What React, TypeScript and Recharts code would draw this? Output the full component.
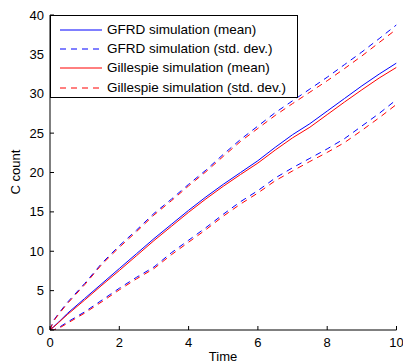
import React from 'react';
import { LineChart, Line, XAxis, YAxis, Legend, Label } from 'recharts';

const time = [0, 0.1, 0.25, 0.5, 1, 1.5, 2, 2.5, 3, 3.5, 4, 4.5, 5, 5.5, 6, 6.5, 7, 7.5, 8, 8.5, 9, 9.5, 10];
const gfrdMean = [0, 0.4, 1.0, 2.1, 4.0, 5.9, 7.8, 9.7, 11.6, 13.4, 15.2, 16.9, 18.5, 20.0, 21.5, 23.2, 24.8, 26.2, 27.8, 29.4, 31.0, 32.5, 33.9];
const gfrdUpper = [0, 1.2, 2.1, 3.5, 5.9, 8.5, 10.7, 12.7, 14.8, 16.6, 18.5, 20.3, 22.3, 24.2, 25.9, 27.6, 29.1, 30.6, 32.1, 33.7, 35.3, 37.0, 38.75];
const gfrdLower = [0, 0, 0.3, 1.0, 2.3, 3.8, 5.3, 6.7, 8.0, 9.8, 11.4, 13.0, 14.7, 16.3, 17.7, 19.3, 20.6, 21.8, 23.0, 24.3, 25.9, 27.5, 29.25];
const gillMean = [0, 0.35, 0.95, 1.95, 3.8, 5.7, 7.55, 9.45, 11.35, 13.15, 14.95, 16.65, 18.25, 19.75, 21.2, 22.85, 24.4, 25.75, 27.35, 28.95, 30.5, 32.0, 33.35];
const gillUpper = [0, 1.1, 2.0, 3.35, 5.75, 8.35, 10.5, 12.5, 14.6, 16.4, 18.3, 20.1, 22.05, 23.95, 25.6, 27.25, 28.75, 30.2, 31.65, 33.2, 34.8, 36.5, 38.2];
const gillLower = [0, 0, 0.2, 0.85, 2.15, 3.6, 5.1, 6.5, 7.8, 9.55, 11.15, 12.75, 14.45, 16.0, 17.4, 18.95, 20.2, 21.4, 22.55, 23.8, 25.35, 26.95, 28.65];

const xTicks = [0, 2, 4, 6, 8, 10];
const yTicks = [0, 5, 10, 15, 20, 25, 30, 35, 40];

const legendItems = [
  { label: 'GFRD simulation (mean)', color: '#0000ff', dashed: false },
  { label: 'GFRD simulation (std. dev.)', color: '#0000ff', dashed: true },
  { label: 'Gillespie simulation (mean)', color: '#ff0000', dashed: false },
  { label: 'Gillespie simulation (std. dev.)', color: '#ff0000', dashed: true },
];

const data = time.map((t, i) => ({
  t,
  gm: gfrdMean[i],
  gu: gfrdUpper[i],
  gl: gfrdLower[i],
  sm: gillMean[i],
  su: gillUpper[i],
  sl: gillLower[i],
}));

const FONT = '"Liberation Sans", Arial, sans-serif';
const DASH = '6 5';

const BottomTick = (props: any) => {
  const { x, y, payload } = props;
  return (
    <g>
      <line x1={x} y1={y} x2={x} y2={y - 4} stroke="#000" strokeWidth={1} />
      <text x={x} y={y + 17} textAnchor="middle" fontSize={13} fontFamily={FONT} fill="#000">
        {payload.value}
      </text>
    </g>
  );
};
const TopTick = (props: any) => {
  const { x, y } = props;
  return <line x1={x} y1={y} x2={x} y2={y + 4} stroke="#000" strokeWidth={1} />;
};
const LeftTick = (props: any) => {
  const { x, y, payload } = props;
  return (
    <g>
      <line x1={x} y1={y} x2={x + 4} y2={y} stroke="#000" strokeWidth={1} />
      <text x={x - 6} y={y + 4.5} textAnchor="end" fontSize={13} fontFamily={FONT} fill="#000">
        {payload.value}
      </text>
    </g>
  );
};
const RightTick = (props: any) => {
  const { x, y } = props;
  return <line x1={x} y1={y} x2={x - 4} y2={y} stroke="#000" strokeWidth={1} />;
};

const LegendBox = () => (
  <div
    style={{
      position: 'relative',
      width: 248,
      height: 83,
      border: '1px solid #000',
      background: '#fff',
      boxSizing: 'border-box',
      fontFamily: FONT,
      fontSize: 13.5,
      color: '#000',
    }}
  >
    {legendItems.map((it, i) => (
      <div
        key={it.label}
        style={{ position: 'absolute', left: 8, top: 14 + 19.2 * i - 9, height: 18, display: 'flex', alignItems: 'center', whiteSpace: 'nowrap' }}
      >
        <svg width={43} height={18} style={{ display: 'block' }}>
          <line x1={1} y1={9} x2={43} y2={9} stroke={it.color} strokeWidth={1} strokeDasharray={it.dashed ? DASH : undefined} />
        </svg>
        <span style={{ marginLeft: 5, lineHeight: '18px' }}>{it.label}</span>
      </div>
    ))}
  </div>
);

export default function App() {
  return (
    <div style={{ position: 'absolute', left: 0, top: 0, width: 403, height: 363, background: '#fff' }}>
      <LineChart width={403} height={363} data={data} margin={{ top: 15, right: 6.5, bottom: 0, left: 0 }}>
        <XAxis
          dataKey="t"
          type="number"
          domain={[0, 10]}
          ticks={xTicks}
          allowDataOverflow
          height={33}
          tickSize={0}
          tickMargin={0}
          tickLine={false}
          tick={<BottomTick />}
          axisLine={{ stroke: '#000', strokeWidth: 1 }}
          interval={0}
        >
          <Label
            content={() => (
              <text x={223} y={361} textAnchor="middle" fontSize={13} fontFamily={FONT} fill="#000">
                Time
              </text>
            )}
          />
        </XAxis>
        <XAxis
          xAxisId="top"
          orientation="top"
          dataKey="t"
          type="number"
          domain={[0, 10]}
          ticks={xTicks}
          allowDataOverflow
          height={0}
          tickSize={0}
          tickMargin={0}
          tickLine={false}
          tick={<TopTick />}
          axisLine={{ stroke: '#000', strokeWidth: 1 }}
          interval={0}
        />
        <YAxis
          type="number"
          domain={[0, 40]}
          ticks={yTicks}
          allowDataOverflow
          width={50}
          tickSize={0}
          tickMargin={0}
          tickLine={false}
          tick={<LeftTick />}
          axisLine={{ stroke: '#000', strokeWidth: 1 }}
          interval={0}
        >
          <Label
            content={() => (
              <text
                x={15}
                y={172}
                textAnchor="middle"
                dominantBaseline="central"
                transform="rotate(-90, 15, 172)"
                fontSize={13}
                fontFamily={FONT}
                fill="#000"
              >
                C count
              </text>
            )}
          />
        </YAxis>
        <YAxis
          yAxisId="right"
          orientation="right"
          type="number"
          domain={[0, 40]}
          ticks={yTicks}
          allowDataOverflow
          width={0}
          tickSize={0}
          tickMargin={0}
          tickLine={false}
          tick={<RightTick />}
          axisLine={{ stroke: '#000', strokeWidth: 1 }}
          interval={0}
        />
        <Line dataKey="gu" stroke="#0000ff" strokeWidth={1} strokeDasharray={DASH} dot={false} isAnimationActive={false} type="linear" />
        <Line dataKey="gl" stroke="#0000ff" strokeWidth={1} strokeDasharray={DASH} dot={false} isAnimationActive={false} type="linear" />
        <Line dataKey="su" stroke="#ff0000" strokeWidth={1} strokeDasharray={DASH} dot={false} isAnimationActive={false} type="linear" />
        <Line dataKey="sl" stroke="#ff0000" strokeWidth={1} strokeDasharray={DASH} dot={false} isAnimationActive={false} type="linear" />
        <Line dataKey="gm" stroke="#0000ff" strokeWidth={1} dot={false} isAnimationActive={false} type="linear" />
        <Line dataKey="sm" stroke="#ff0000" strokeWidth={1} dot={false} isAnimationActive={false} type="linear" />
        <Legend
          layout="vertical"
          align="center"
          verticalAlign="middle"
          wrapperStyle={{ left: 50, top: 15, width: 248, height: 83 }}
          content={<LegendBox />}
        />
      </LineChart>
    </div>
  );
}
